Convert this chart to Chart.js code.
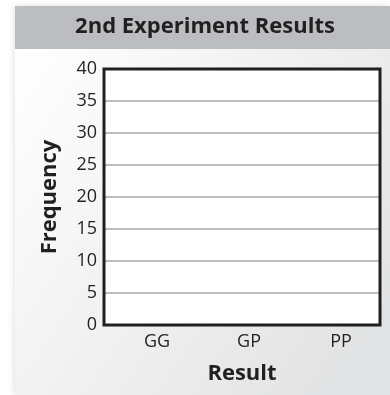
<!DOCTYPE html>
<html>
<head>
<meta charset="utf-8">
<script src="https://cdn.jsdelivr.net/npm/chart.js@4.4.1/dist/chart.umd.min.js"></script>
<style>
  html, body { margin: 0; padding: 0; background: #ffffff; }
  #wrap { width: 390px; height: 395px; position: relative; }
</style>
</head>
<body>
<div id="wrap"><canvas id="chart" width="390" height="395"></canvas></div>
<script>
// chart data (the experiment chart is still blank - no bars recorded)
const categories = ['GG', 'GP', 'PP'];
const frequencies = [null, null, null];
const yTicks = [0, 5, 10, 15, 20, 25, 30, 35, 40];

const ink = '#231f20';
const bandGray = '#bcbdc0';

// draws the panel background, header band and the frame round the plot
const panelPlugin = {
  id: 'panel',
  beforeDraw(chart) {
    const ctx = chart.ctx;
    ctx.save();
    ctx.fillStyle = '#ffffff';
    ctx.fillRect(0, 0, chart.width, chart.height);
    // soft shadow on the panel's left edge
    ctx.shadowColor = 'rgba(0,0,0,0.12)';
    ctx.shadowBlur = 6;
    ctx.shadowOffsetX = -1;
    const grad = ctx.createLinearGradient(15, 49, 390, 300);
    grad.addColorStop(0, '#ffffff');
    grad.addColorStop(1, '#e2e3e4');
    ctx.fillStyle = grad;
    ctx.fillRect(15, 6, chart.width - 15, chart.height - 6);
    ctx.shadowColor = 'transparent';
    ctx.fillStyle = bandGray;
    ctx.fillRect(15, 6, chart.width - 15, 43);
    const a = chart.chartArea;
    ctx.fillStyle = '#ffffff';
    ctx.fillRect(a.left, a.top, a.right - a.left, a.bottom - a.top);
    ctx.restore();
  },
  afterDraw(chart) {
    const ctx = chart.ctx;
    const a = chart.chartArea;
    ctx.save();
    ctx.strokeStyle = ink;
    ctx.lineWidth = 3;
    ctx.strokeRect(a.left, a.top, a.right - a.left, a.bottom - a.top);
    ctx.restore();
  },
};

const ctx = document.getElementById('chart').getContext('2d');
new Chart(ctx, {
  type: 'bar',
  data: {
    labels: categories,
    datasets: [{
      label: 'Frequency',
      data: frequencies,
      backgroundColor: '#6d6e71',
      borderWidth: 0,
    }],
  },
  options: {
    responsive: false,
    animation: false,
    events: [],
    layout: {
      padding: { left: 20, right: 0, top: 0, bottom: 0 },
    },
    plugins: {
      legend: { display: false },
      tooltip: { enabled: false },
      title: {
        display: true,
        text: '2nd Experiment Results',
        color: ink,
        font: { family: 'Open Sans', size: 22, weight: 'bold', lineHeight: 1.2 },
        padding: { top: 14, bottom: 28.6 },
      },
    },
    scales: {
      x: {
        grid: { display: false, drawTicks: false },
        border: { display: false },
        ticks: {
          color: ink,
          font: { family: 'Open Sans', size: 18 },
          padding: 6,
          labelOffset: 7,
        },
        title: {
          display: true,
          text: 'Result',
          color: ink,
          font: { family: 'Open Sans', size: 22, weight: 'bold', lineHeight: 1.2 },
          padding: { top: 0, bottom: 8 },
        },
        afterFit(scale) { scale.height = 70; },
      },
      y: {
        min: 0,
        max: 40,
        afterBuildTicks(scale) { scale.ticks = yTicks.map(v => ({ value: v })); },
        grid: { color: bandGray, lineWidth: 2, drawTicks: false },
        border: { display: false },
        ticks: {
          color: ink,
          font: { family: 'Open Sans', size: 18 },
          padding: 7,
        },
        title: {
          display: true,
          text: 'Frequency',
          color: ink,
          font: { family: 'Open Sans', size: 22, weight: 'bold', lineHeight: 1.2 },
          padding: { top: 17, bottom: 0 },
        },
        afterFit(scale) { scale.width = 84; },
      },
      // empty right-hand margin so the plot stops short of the panel edge
      yRight: {
        position: 'right',
        min: 0,
        max: 40,
        grid: { display: false, drawTicks: false },
        border: { display: false },
        ticks: { display: false },
        afterFit(scale) { scale.width = 10; },
      },
    },
  },
  plugins: [panelPlugin],
});
</script>
</body>
</html>
